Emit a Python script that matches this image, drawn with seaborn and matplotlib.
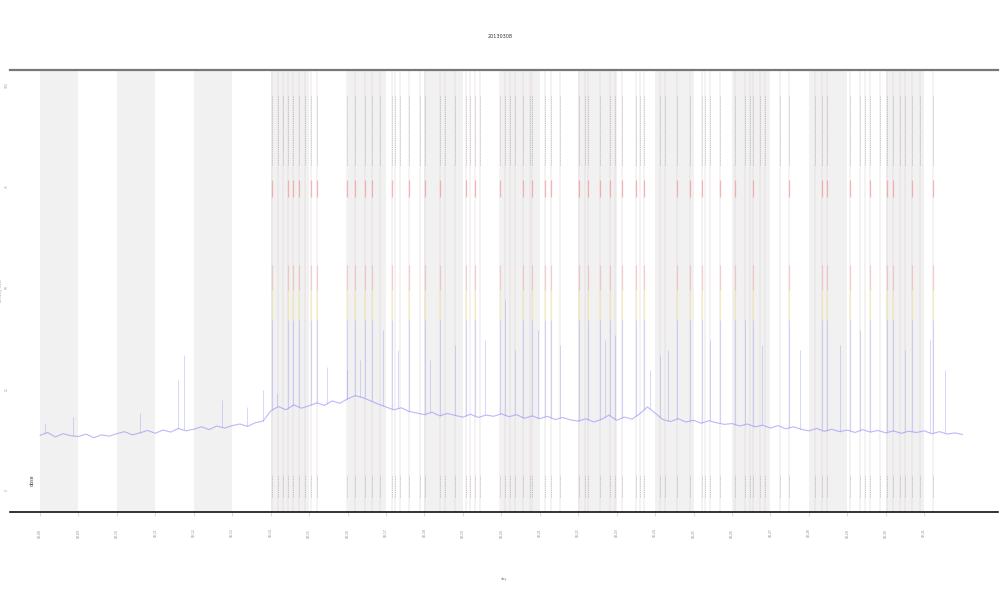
import numpy as np
import pandas as pd
import matplotlib
matplotlib.use("Agg")
import matplotlib.pyplot as plt
import seaborn as sns

# ---------------- data ----------------
title_text = "20130308"
x_label = "day"
y_label = "activity level"
side_label = "dose"

day_ticks = list(range(24))
day_labels = [f"03-{8 + d:02d}" if 8 + d <= 31 else f"04-{8 + d - 31:02d}" for d in day_ticks]
y_ticks = [0, 25, 50, 75, 100]
y_tick_labels = ["0", "25", "50", "75", "100"]

# shaded (night) bands: start, end in days
band_starts = [0, 2, 4, 6, 8, 10, 12, 14, 16, 18, 20, 22]
band_ends = [1, 3, 5, 7, 9, 11, 13, 15, 17, 19, 21, 23]

# baseline activity, 5 samples per day over 24 days
baseline_values = [
    13.5, 14.2, 13.1, 13.9, 13.4,
    13.2, 13.8, 12.9, 13.6, 13.3,
    13.9, 14.4, 13.6, 14.1, 14.7,
    14.0, 14.8, 14.3, 15.2, 14.6,
    15.0, 15.6, 14.9, 15.8, 15.3,
    15.9, 16.3, 15.7, 16.6, 17.0,
    19.5, 20.6, 19.8, 21.0, 20.2,
    20.8, 21.5, 20.9, 22.0, 21.4,
    22.5, 23.3, 22.8, 22.0, 21.2,
    20.5, 19.8, 20.3, 19.4, 19.0,
    18.6, 19.2, 18.3, 18.9, 18.4,
    18.0, 18.7, 17.9, 18.5, 18.2,
    18.8, 18.1, 18.6, 17.7, 18.3,
    17.6, 18.2, 17.4, 17.9, 17.3,
    17.0, 17.6, 16.8, 17.4, 18.5,
    17.2, 18.0, 17.5, 18.8, 20.5,
    19.0, 17.4, 16.9, 17.6, 16.8,
    17.2, 16.5, 17.1, 16.6, 16.2,
    16.4, 15.8, 16.3, 15.6, 16.0,
    15.3, 15.9, 15.1, 15.6, 15.0,
    14.6, 15.2, 14.5, 15.0, 14.4,
    14.8, 14.2, 14.9, 14.3, 14.7,
    14.1, 14.6, 14.0, 14.5, 14.2,
    14.6, 13.9, 14.4, 13.8, 14.1,
    13.7,
]

# isolated activity spikes: position (days), peak value
spike_x = [0.13, 0.86, 2.60, 3.59, 3.75, 4.73, 5.38, 5.80, 6.16, 7.46, 7.98,
           8.32, 8.92, 9.31, 10.14, 10.79, 11.57, 12.09, 12.35, 12.95, 13.52,
           14.69, 14.95, 15.86, 16.12, 16.33, 17.43, 18.34, 18.78, 19.77,
           20.81, 21.33, 22.50, 23.15, 23.54]
spike_y = [16.5, 18.0, 19.0, 27.2, 33.3, 22.2, 20.5, 24.7, 24.0, 30.4, 29.6,
           32.1, 39.5, 34.6, 32.1, 35.8, 37.0, 46.9, 34.6, 39.5, 35.8,
           37.0, 38.3, 29.6, 33.3, 34.6, 37.0, 42.0, 35.8, 34.6,
           35.8, 39.5, 34.6, 37.0, 29.6]

# major events (coloured markers)
major_events = [6.03, 6.45, 6.58, 6.74, 7.05, 7.20, 7.98, 8.19, 8.45, 8.63,
                9.15, 9.60, 10.01, 10.40, 11.08, 11.31, 11.96, 12.56, 12.80,
                13.13, 13.29, 14.02, 14.25, 14.56, 14.82, 15.14, 15.50, 15.71,
                16.57, 16.91, 17.22, 17.68, 18.08, 18.54, 19.48, 20.34, 20.47,
                21.07, 21.59, 22.03, 22.18, 22.68, 23.22]
# minor events (rug only)
minor_events = [6.19, 6.32, 6.89, 8.84, 9.23, 9.36, 9.88, 10.53, 10.79, 11.18,
                11.44, 12.09, 12.22, 12.35, 12.74, 13.52, 14.17, 14.95, 15.60,
                16.12, 16.25, 17.29, 17.43, 18.34, 18.47, 18.73, 18.86, 19.25,
                20.16, 21.33, 21.46, 21.85, 22.37, 22.50, 22.89]

# marker layer levels (value units)
blue_top = 42.0
yellow_top = 49.4
red_top = 55.5
red_tick_low, red_tick_high = 72.3, 76.5
rug_top_low, rug_top_high = 80.2, 97.5
rug_bot_low, rug_bot_high = -1.7, 3.7

# ---------------- plot ----------------
sns.set_theme(style="white")
plt.rcParams['font.family'] = ['DejaVu Sans']

fig = plt.figure(figsize=(10, 6), dpi=100)
ax = fig.add_axes([0.010, 0.1467, 0.988, 0.7366])

for s, e in zip(band_starts, band_ends):
    ax.axvspan(s, e, color="#f1f1f1", lw=0, zorder=0)

all_events = sorted(major_events + minor_events)
ax.vlines(all_events, -6, 104, colors="#e0d4d8", linewidth=1.4, alpha=0.3, zorder=1)

base_x = np.linspace(0, 24, len(baseline_values))
df = pd.DataFrame({"day": base_x, "value": baseline_values})
sns.lineplot(data=df, x="day", y="value", ax=ax, color="#8c8cf5",
             linewidth=0.8, alpha=0.6, zorder=3)

base_at_spike = np.interp(spike_x, base_x, baseline_values)
ax.vlines(spike_x, base_at_spike, spike_y, colors="#9a9af5", linewidth=0.6, alpha=0.45, zorder=3)

base_at_major = np.interp(major_events, base_x, baseline_values)
ax.vlines(major_events, base_at_major, blue_top, colors="#a0a0f5", linewidth=0.8, alpha=0.4, zorder=3)
ax.vlines(major_events, blue_top, yellow_top, colors="#f2e680", linewidth=0.9, alpha=0.45, zorder=3)
ax.vlines(major_events, yellow_top, red_top, colors="#f08a8a", linewidth=0.9, alpha=0.35, zorder=3)
ax.vlines(major_events, red_tick_low, red_tick_high, colors="#f07878", linewidth=0.9, alpha=0.5, zorder=3)

ax.vlines(all_events, rug_top_low, rug_top_high, colors="#666666", linewidth=0.45,
          linestyles=(0, (2, 1.5)), alpha=0.45, zorder=3)
ax.vlines(all_events, rug_bot_low, rug_bot_high, colors="#666666", linewidth=0.45,
          linestyles=(0, (2, 1.5)), alpha=0.45, zorder=3)

ax.set_xlim(-0.78, 24.92)
ax.set_ylim(-5.43, 103.7)

ax.set_xticks(day_ticks)
ax.set_xticklabels(day_labels, rotation=90, fontsize=2.2, color="#888888")
ax.set_yticks(y_ticks)
ax.set_yticklabels(y_tick_labels, rotation=90, fontsize=2.2, color="#999999", va="center")
ax.tick_params(axis="x", length=3, width=0.4, color="#bbbbbb", pad=9, bottom=True)
ax.tick_params(axis="y", length=0, pad=1)

ax.set_xlabel(x_label, fontsize=2.5, color="#888888", labelpad=28)
ax.set_ylabel(y_label, fontsize=2.5, color="#999999", labelpad=1)

for side in ["left", "right"]:
    ax.spines[side].set_visible(False)
ax.spines["top"].set_color("#777777")
ax.spines["top"].set_linewidth(1.6)
ax.spines["bottom"].set_color("#111111")
ax.spines["bottom"].set_linewidth(1.2)

ax.text(-0.2, 2.5, side_label, rotation=90, fontsize=3.5, color="#444444",
        ha="center", va="center")

fig.text(0.5, 1 - 37 / 600, title_text, fontsize=3.5, color="#333333", ha="center", va="center")

fig.savefig("out.png", dpi=100)
